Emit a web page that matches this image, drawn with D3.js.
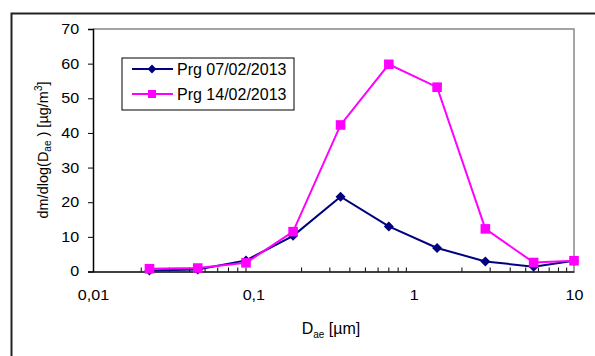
<!DOCTYPE html>
<html>
<head>
<meta charset="utf-8">
<script src="https://cdn.jsdelivr.net/npm/d3@7"></script>
<style>
  body { margin: 0; background: #fff; }
  svg { display: block; font-family: "Liberation Sans", Arial, sans-serif; }
</style>
</head>
<body>
<svg id="chart" width="595" height="356"></svg>
<script>
// particle size bins (aerodynamic diameter, um)
var diameters = [0.0225, 0.045, 0.09, 0.177, 0.35, 0.7, 1.4, 2.8, 5.6, 10];
var prg0702 = [0.3, 0.6, 3.2, 10.3, 21.6, 13.0, 6.8, 2.9, 1.4, 3.1];
var prg1402 = [0.8, 1.0, 2.5, 11.5, 42.3, 59.8, 53.2, 12.3, 2.6, 3.1];
var seriesNames = ["Prg 07/02/2013", "Prg 14/02/2013"];
var seriesColors = ["#000080", "#ff00ff"];
var yTicks = [0, 10, 20, 30, 40, 50, 60, 70];
var xTicks = [0.01, 0.1, 1, 10];

var svg = d3.select("#chart");

var margins = { left: 93, top: 29, right: 574, bottom: 271.5 };

var x = d3.scaleLog().domain([0.01, 10]).range([margins.left, margins.right]);
var y = d3.scaleLinear().domain([0, 70]).range([margins.bottom, margins.top]);

// outer chart frame (runs off the page right/bottom)
svg.append("path")
    .attr("d", "M11.5,360 V13.5 H600")
    .attr("fill", "none")
    .attr("stroke", "#222")
    .attr("stroke-width", 2);

// plot area: grey top/right, black axes
svg.append("path")
    .attr("d", "M" + margins.left + "," + margins.top + " H" + margins.right + " V" + margins.bottom)
    .attr("fill", "none")
    .attr("stroke", "#888")
    .attr("stroke-width", 1.5);

// tick labels look a bit wide in the original
function wide(sel) {
    sel.attr("font-size", 14).attr("fill", "#000")
        .attr("font-family", "Liberation Sans, Arial, sans-serif")
        .attr("transform", "scale(1.15,1)");
}

// y axis
var yAxis = svg.append("g")
    .attr("transform", "translate(" + margins.left + ",0)")
    .call(d3.axisLeft(y).tickValues(yTicks).tickSize(5).tickPadding(7).tickFormat(d3.format("d")));
yAxis.select(".domain").attr("stroke", "#000").attr("stroke-width", 1.5);
yAxis.selectAll("text").call(wide);

// x axis, minor ticks pointing into the plot
var minor = [];
[0.01, 0.1, 1].forEach(function (base) {
    for (var k = 2; k <= 9; k++) minor.push(base * k);
});
var xAxis = svg.append("g")
    .attr("transform", "translate(0," + margins.bottom + ")")
    .call(d3.axisBottom(x).tickValues(xTicks).tickSize(0).tickPadding(19)
        .tickFormat(function (d) { return String(d).replace(".", ","); }));
xAxis.select(".domain").attr("stroke", "#000").attr("stroke-width", 1.5);
xAxis.selectAll("text").call(wide);
xAxis.selectAll(".minor")
    .data(minor)
    .enter().append("line")
    .attr("class", "minor")
    .attr("x1", d => x(d)).attr("x2", d => x(d))
    .attr("y1", 0).attr("y2", -4)
    .attr("stroke", "#000");

// axis titles
var xt = svg.append("text")
    .attr("x", 331).attr("y", 334)
    .attr("text-anchor", "middle")
    .attr("font-size", 16);
xt.append("tspan").text("D");
xt.append("tspan").attr("font-size", 10).attr("dy", 4).text("ae");
xt.append("tspan").attr("dy", -4).text(" [\u00b5m]");

var yt = svg.append("text")
    .attr("transform", "translate(48,150) rotate(-90)")
    .attr("text-anchor", "middle")
    .attr("font-size", 14.5);
yt.append("tspan").text("dm/dlog(D");
yt.append("tspan").attr("font-size", 10).attr("dy", 3).text("ae");
yt.append("tspan").attr("dy", -3).text(" ) [\u00b5g/m");
yt.append("tspan").attr("font-size", 10).attr("dy", -6).text("3");
yt.append("tspan").attr("dy", 6).text("]");

var series = [prg0702, prg1402];
var line = d3.line()
    .x(d => x(d[0]))
    .y(d => y(d[1]));

var diamond = d3.symbol().type(d3.symbolDiamond2).size(64);
var square = d3.symbol().type(d3.symbolSquare).size(92);
var symbols = [diamond, square];

series.forEach(function (vals, i) {
    var pts = diameters.map((d, j) => [d, vals[j]]);
    svg.append("path")
        .datum(pts)
        .attr("d", line)
        .attr("fill", "none")
        .attr("stroke", seriesColors[i])
        .attr("stroke-width", 2);
    svg.selectAll(".pt" + i)
        .data(pts)
        .enter().append("path")
        .attr("class", "pt" + i)
        .attr("d", symbols[i])
        .attr("transform", d => "translate(" + x(d[0]) + "," + y(d[1]) + ")")
        .attr("fill", seriesColors[i]);
});

// legend
var legend = svg.append("g").attr("transform", "translate(122,58)");
legend.append("rect")
    .attr("width", 172).attr("height", 52)
    .attr("fill", "#fff").attr("stroke", "#000");
var legendSyms = [d3.symbol().type(d3.symbolDiamond2).size(50), d3.symbol().type(d3.symbolSquare).size(64)];
seriesNames.forEach(function (name, i) {
    var g = legend.append("g").attr("transform", "translate(0," + (11 + i * 25) + ")");
    g.append("line").attr("x1", 10).attr("x2", 51).attr("y1", 0).attr("y2", 0)
        .attr("stroke", seriesColors[i]).attr("stroke-width", 2);
    g.append("path").attr("d", legendSyms[i]).attr("transform", "translate(30,0)")
        .attr("fill", seriesColors[i]);
    g.append("text").attr("x", 55).attr("y", 0).attr("dy", "0.36em")
        .attr("font-size", 16).text(name);
});
</script>
</body>
</html>
